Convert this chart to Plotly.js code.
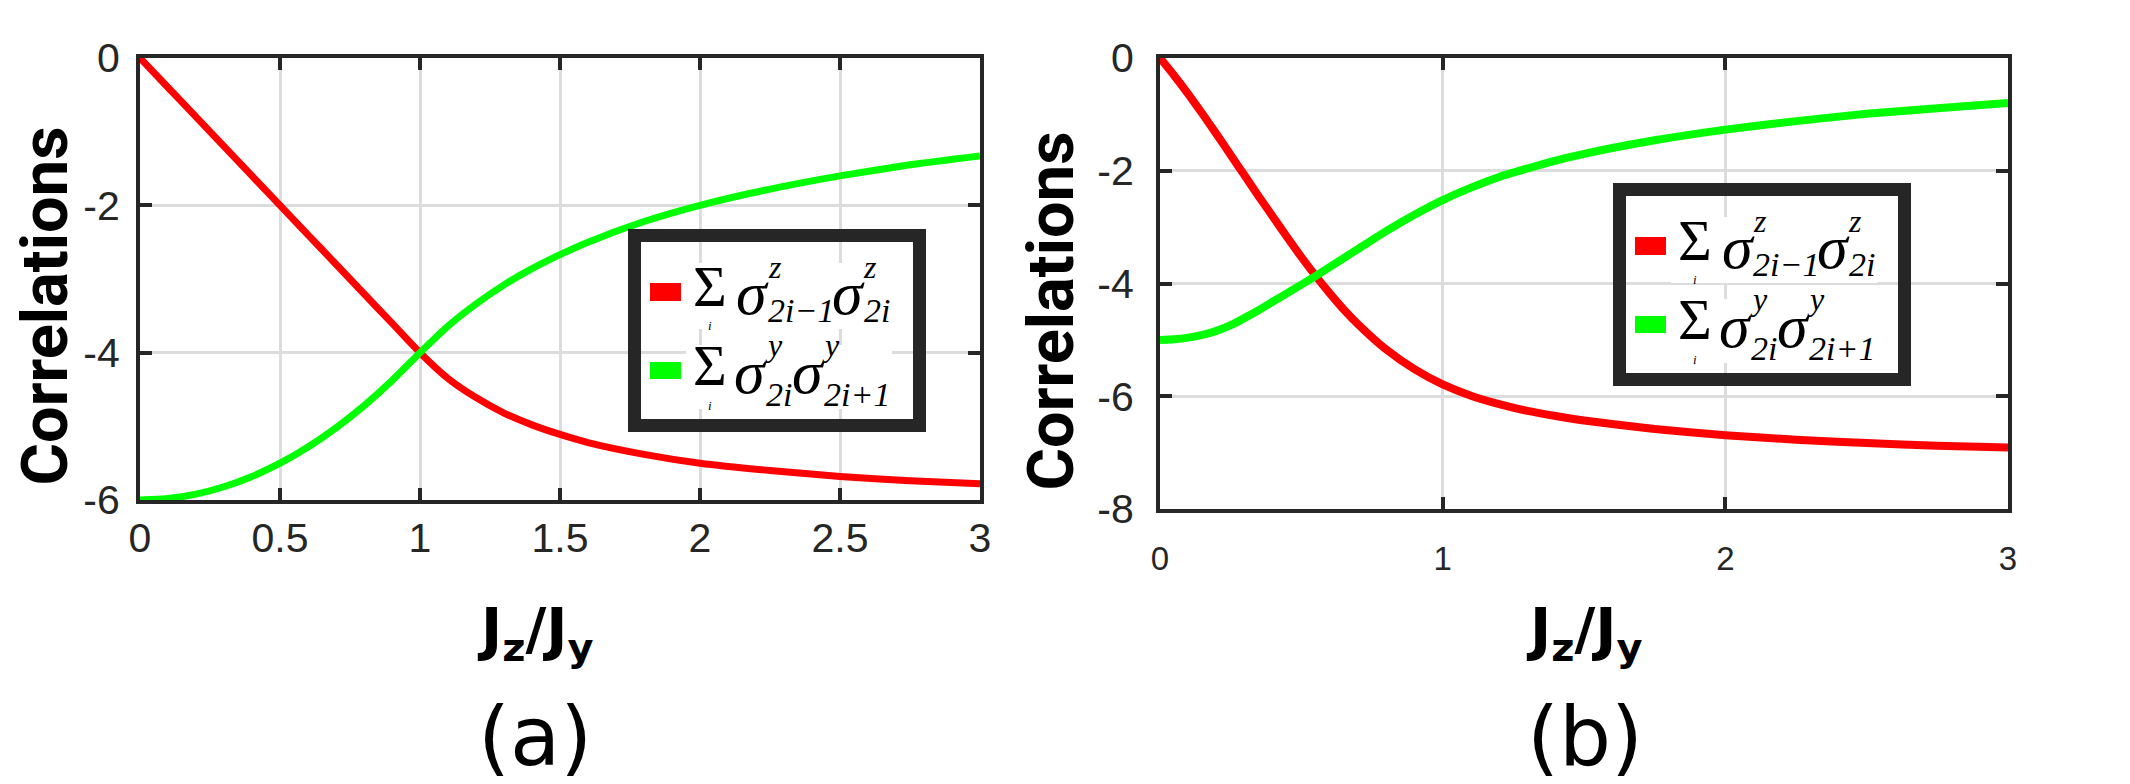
<!DOCTYPE html>
<html>
<head>
<meta charset="utf-8">
<script src="https://cdn.plot.ly/plotly-3.0.1.min.js"></script>
<style>
html,body{margin:0;padding:0;background:#ffffff;}
#chart{width:2130px;height:784px;}
</style>
</head>
<body>
<div id="chart"></div>
<script>
// ---------------- data ----------------
// Panel (a)
const xA = [0,0.1,0.2,0.3,0.4,0.5,0.6,0.7,0.8,0.9,1.0,1.1,1.2,1.3,1.4,1.5,1.6,1.8,2.0,2.25,2.5,2.75,3.0];
const redA = [0,-0.4,-0.8,-1.2,-1.6,-2.0,-2.4,-2.8,-3.2,-3.6,-4.0,-4.35,-4.61,-4.82,-4.98,-5.11,-5.22,-5.38,-5.5,-5.6,-5.68,-5.74,-5.78];
const greenA = [-6,-5.98,-5.92,-5.82,-5.68,-5.5,-5.28,-5.02,-4.72,-4.38,-4.0,-3.64,-3.34,-3.08,-2.86,-2.67,-2.5,-2.22,-2.0,-1.78,-1.6,-1.45,-1.33];
// Panel (b)
const xB = [0,0.05,0.1,0.15,0.2,0.25,0.3,0.35,0.4,0.45,0.5,0.55,0.6,0.65,0.7,0.8,0.9,1.0,1.1,1.2,1.3,1.4,1.5,1.75,2.0,2.25,2.5,2.75,3.0];
const redB = [0,-0.31,-0.64,-0.99,-1.35,-1.72,-2.09,-2.46,-2.82,-3.18,-3.53,-3.86,-4.17,-4.46,-4.72,-5.17,-5.52,-5.79,-5.99,-6.14,-6.26,-6.35,-6.43,-6.58,-6.69,-6.77,-6.83,-6.88,-6.91];
const greenB = [-5.0,-4.99,-4.96,-4.91,-4.84,-4.74,-4.61,-4.47,-4.32,-4.17,-4.02,-3.87,-3.71,-3.55,-3.39,-3.07,-2.78,-2.52,-2.3,-2.11,-1.96,-1.82,-1.7,-1.46,-1.27,-1.12,-0.99,-0.89,-0.8];

// tick labels
const xATickVals = [0,0.5,1,1.5,2,2.5,3];
const xATickText = ['0','0.5','1','1.5','2','2.5','3'];
const yATickVals = [0,-2,-4,-6];
const yATickText = ['0','-2','-4','-6'];
const xBTickVals = [0,1,2,3];
const xBTickText = ['0','1','2','3'];
const yBTickVals = [0,-2,-4,-6,-8];
const yBTickText = ['0','-2','-4','-6','-8'];

const seriesNames = ['Σ_i σ^z_{2i−1} σ^z_{2i}', 'Σ_i σ^y_{2i} σ^y_{2i+1}'];
const seriesColors = ['#ff0000', '#00ff00'];
const yTitle = 'Correlations';
const xTitle = 'J<sub>z</sub>/J<sub>y</sub>';
const panelLabels = ['(a)', '(b)'];

// ---------------- layout helpers ----------------
const W = 2130, H = 784;
const px = x => x / W;
const py = y => 1 - y / H;

function axStyle(size, standoff) {
  return {
    showline: true, linecolor: '#262626', linewidth: 4, mirror: 'ticks',
    ticks: 'inside', ticklen: 12, tickwidth: 4, tickcolor: '#262626',
    showgrid: true, gridcolor: '#dcdcdc', gridwidth: 3, zeroline: false,
    tickfont: {family: 'Liberation Sans, Arial, sans-serif', size: size, color: '#262626'},
    ticklabelstandoff: standoff, layer: 'below traces', fixedrange: true
  };
}

const traces = [
  {x: xA, y: redA, xaxis: 'x', yaxis: 'y', mode: 'lines', name: seriesNames[0],
   line: {color: seriesColors[0], width: 7, shape: 'spline', smoothing: 0.6}},
  {x: xA, y: greenA, xaxis: 'x', yaxis: 'y', mode: 'lines', name: seriesNames[1],
   line: {color: seriesColors[1], width: 7, shape: 'spline', smoothing: 0.6}},
  {x: xB, y: redB, xaxis: 'x2', yaxis: 'y2', mode: 'lines', name: seriesNames[0],
   line: {color: seriesColors[0], width: 8, shape: 'spline', smoothing: 0.6}},
  {x: xB, y: greenB, xaxis: 'x2', yaxis: 'y2', mode: 'lines', name: seriesNames[1],
   line: {color: seriesColors[1], width: 8, shape: 'spline', smoothing: 0.6}}
];

const shapes = [];
const annotations = [];

function rectPx(x0, y0, x1, y1, fill, lineColor, lineWidth) {
  return {type: 'rect', xref: 'paper', yref: 'paper', layer: 'above',
    x0: px(x0), x1: px(x1), y0: py(y1), y1: py(y0),
    fillcolor: fill, line: {color: lineColor || 'rgba(0,0,0,0)', width: lineWidth || 0}};
}
function textPx(text, x, y, size, family, opts, style, weight) {
  const font = {family: family, size: size, color: '#000000'};
  if (style) font.style = style;
  if (weight) font.weight = weight;
  return Object.assign({xref: 'paper', yref: 'paper', x: px(x), y: py(y), text: text,
    showarrow: false, xanchor: 'center', yanchor: 'middle', borderpad: 0, borderwidth: 0,
    font: font}, opts || {});
}

// legend glyph layout (relative to the legend's outer top-left corner): text, x, y, size, style
const legendPieces = [
  ['\u03a3', 82, 57, 58, 'normal'], ['i', 82, 96.5, 13, 'italic'],
  ['\u03c3', 125, 64, 62, 'italic'], ['z', 147, 38, 32, 'italic'], ['2i\u22121', 173, 81, 34, 'italic'],
  ['\u03c3', 220, 64, 62, 'italic'], ['z', 242, 38, 32, 'italic'], ['2i', 249, 81, 34, 'italic'],
  ['\u03a3', 82, 136, 58, 'normal'], ['i', 82, 176, 13, 'italic'],
  ['\u03c3', 122, 143, 62, 'italic'], ['y', 146, 116, 32, 'italic'], ['2i', 151, 165, 34, 'italic'],
  ['\u03c3', 180, 143, 62, 'italic'], ['y', 203, 116, 32, 'italic'], ['2i+1', 229, 165, 34, 'italic']
];

function addLegend(ox, oy) {
  shapes.push(rectPx(ox + 58, oy + 34, ox + 264, oy + 100, '#ffffff'));
  shapes.push(rectPx(ox + 58, oy + 116, ox + 264, oy + 180, '#ffffff'));
  shapes.push(rectPx(ox + 22, oy + 54, ox + 53, oy + 72, seriesColors[0]));
  shapes.push(rectPx(ox + 22, oy + 133, ox + 53, oy + 150, seriesColors[1]));
  shapes.push(rectPx(ox + 6.5, oy + 6.5, ox + 291.5, oy + 196.5, 'rgba(0,0,0,0)', '#262626', 13));
  legendPieces.forEach(p => {
    annotations.push(textPx(p[0], ox + p[1], oy + p[2], p[3],
      'Liberation Serif, Times New Roman, serif', null, p[4]));
  });
}
addLegend(628, 229);
addLegend(1613, 183);

// axis titles and panel labels
const narrowBold = 'Liberation Sans Narrow, Roboto, Arial, sans-serif';
annotations.push(textPx(yTitle, 44.5, 306, 65, narrowBold, {textangle: -90}, null, 'bold'));
annotations.push(textPx(yTitle, 1050.5, 311, 65, narrowBold, {textangle: -90}, null, 'bold'));
annotations.push(textPx(xTitle, 535, 596, 57, 'DejaVu Sans, sans-serif', {yanchor: 'top'}, null, 'bold'));
annotations.push(textPx(xTitle, 1584, 596, 57, 'DejaVu Sans, sans-serif', {yanchor: 'top'}, null, 'bold'));
annotations.push(textPx(panelLabels[0], 535, 736.6, 82, 'DejaVu Sans, sans-serif'));
annotations.push(textPx(panelLabels[1], 1584.5, 736.6, 82, 'DejaVu Sans, sans-serif'));

const layout = {
  width: W, height: H,
  margin: {l: 0, r: 0, t: 0, b: 0, pad: 0},
  paper_bgcolor: '#ffffff', plot_bgcolor: '#ffffff',
  showlegend: false,
  xaxis: Object.assign(axStyle(41, -1), {domain: [px(140), px(980)], range: [0, 3],
    tickmode: 'array', tickvals: xATickVals, ticktext: xATickText, anchor: 'y'}),
  yaxis: Object.assign(axStyle(41, 8), {domain: [py(500), py(58)], range: [-6, 0],
    tickmode: 'array', tickvals: yATickVals, ticktext: yATickText, anchor: 'x'}),
  xaxis2: Object.assign(axStyle(33, 17), {domain: [px(1160), px(2008)], range: [0, 3],
    tickmode: 'array', tickvals: xBTickVals, ticktext: xBTickText, anchor: 'y2'}),
  yaxis2: Object.assign(axStyle(41, 14), {domain: [py(509), py(58)], range: [-8, 0],
    tickmode: 'array', tickvals: yBTickVals, ticktext: yBTickText, anchor: 'x2'}),
  shapes: shapes,
  annotations: annotations
};

Plotly.newPlot('chart', traces, layout, {staticPlot: true, displayModeBar: false});
</script>
</body>
</html>
